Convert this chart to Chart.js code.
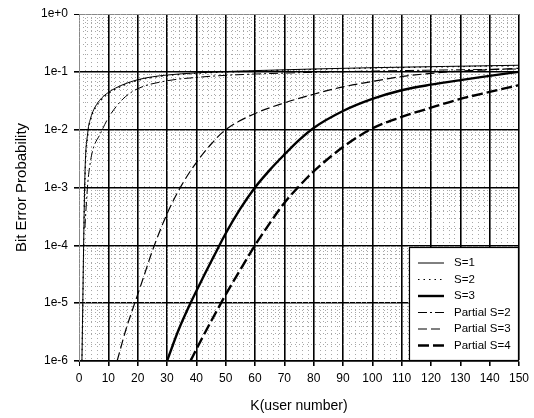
<!DOCTYPE html>
<html>
<head>
<meta charset="utf-8">
<script src="https://cdn.jsdelivr.net/npm/chart.js@4.4.0/dist/chart.umd.min.js"></script>
<style>
  html, body { margin: 0; padding: 0; background: #fff; }
  #wrap { width: 534px; height: 418px; }
</style>
</head>
<body>
<div id="wrap"><canvas id="berChart" width="534" height="418"></canvas></div>
<script>
// K values (user number) and bit error probabilities
const kS1 = [1, 2, 3, 4, 5, 7, 10, 15, 20, 25, 30, 40, 60, 80, 100, 125, 150];
const pS1 = [1e-6, 1.5e-3, 9e-3, 1.6e-2, 2.2e-2, 3.2e-2, 4.4e-2, 6e-2, 7.3e-2, 8.2e-2, 8.8e-2, 9.6e-2, 0.105, 0.112, 0.118, 0.124, 0.13];

const kS2 = [1, 2, 3, 4, 5, 7, 10, 15, 20, 25, 30, 40, 60, 80, 100, 125, 150];
const pS2 = [1e-6, 1.2e-3, 8e-3, 1.5e-2, 2.1e-2, 3e-2, 4.2e-2, 5.8e-2, 7.1e-2, 8e-2, 8.6e-2, 9.4e-2, 0.103, 0.11, 0.116, 0.122, 0.128];

const kS3 = [30, 34, 38, 42, 46, 50, 55, 60, 65, 70, 75, 80, 90, 100, 110, 120, 130, 140, 150];
const pS3 = [1e-6, 3.5e-6, 1e-5, 2.6e-5, 6.5e-5, 1.6e-4, 4.3e-4, 1e-3, 2e-3, 3.7e-3, 6.6e-3, 1.07e-2, 2.1e-2, 3.4e-2, 4.8e-2, 6e-2, 7.2e-2, 8.5e-2, 0.1];

const kP2 = [2, 3, 4, 5, 7, 10, 15, 20, 30, 40, 50, 70, 100, 150];
const pP2 = [2e-4, 1.2e-3, 3e-3, 5e-3, 8e-3, 1.6e-2, 3.4e-2, 5.1e-2, 7e-2, 8e-2, 8.7e-2, 9.5e-2, 0.103, 0.112];

const kP3 = [13, 16, 19, 22, 25, 30, 35, 40, 45, 50, 60, 70, 80, 90, 100, 110, 120, 130, 140, 150];
const pP3 = [1e-6, 3.5e-6, 1e-5, 2.8e-5, 8e-5, 3.5e-4, 1.1e-3, 2.7e-3, 5.6e-3, 1e-2, 1.9e-2, 2.9e-2, 4.1e-2, 5.5e-2, 6.8e-2, 8.3e-2, 9.4e-2, 0.103, 0.109, 0.115];

const kP4 = [38, 42, 46, 50, 55, 60, 65, 70, 75, 80, 90, 100, 110, 120, 130, 140, 150];
const pP4 = [1e-6, 2.5e-6, 6e-6, 1.4e-5, 3.8e-5, 1e-4, 2.4e-4, 5.4e-4, 1.05e-3, 1.9e-3, 5e-3, 1.05e-2, 1.66e-2, 2.4e-2, 3.4e-2, 4.5e-2, 5.9e-2];

const yTicks = [1e-6, 1e-5, 1e-4, 1e-3, 1e-2, 1e-1, 1];
const xTickStep = 10;

const FONT = '"Liberation Sans", Arial, Helvetica, sans-serif';

function pts(ks, ps) {
    return ks.map((k, i) => ({ x: k, y: ps[i] }));
}

function series(label, ks, ps, width, dash) {
    return {
        label: label,
        data: pts(ks, ps),
        borderColor: '#000',
        borderWidth: width,
        borderDash: dash,
        pointRadius: 0,
        fill: false,
        cubicInterpolationMode: 'monotone'
    };
}

// dotted minor grid, drawn from the scales
const minorGrid = {
    id: 'minorGrid',
    beforeDatasetsDraw(chart) {
        const { ctx, chartArea: a, scales: { x, y } } = chart;
        ctx.save();
        ctx.strokeStyle = '#a8a8a8';
        ctx.lineWidth = 1;
        ctx.setLineDash([1, 3]);
        ctx.beginPath();
        for (let e = -6; e < 0; e++) {
            for (let m = 2; m <= 9; m++) {
                const py = Math.round(y.getPixelForValue(m * Math.pow(10, e))) + 0.5;
                ctx.moveTo(a.left, py);
                ctx.lineTo(a.right, py);
            }
        }
        for (let k = 2; k < 150; k += 2) {
            if (k % 10 === 0) continue;
            const px = Math.round(x.getPixelForValue(k)) + 0.5;
            ctx.moveTo(px, a.top);
            ctx.lineTo(px, a.bottom);
        }
        ctx.stroke();
        ctx.restore();
    }
};

// legend box in the lower right corner of the plot
const boxLegend = {
    id: 'boxLegend',
    afterDatasetsDraw(chart) {
        const { ctx, chartArea: a } = chart;
        const w = 110, h = 114;
        const left = a.right - w, top = a.bottom - h;
        ctx.save();
        ctx.fillStyle = '#fff';
        ctx.fillRect(left, top, w, h);
        ctx.strokeStyle = '#000';
        ctx.lineWidth = 1.2;
        ctx.setLineDash([]);
        ctx.strokeRect(left + 0.5, top + 0.5, w - 1, h - 1);
        ctx.font = '11.5px ' + FONT;
        ctx.textBaseline = 'middle';
        ctx.fillStyle = '#000';
        chart.data.datasets.forEach((ds, i) => {
            const yy = top + 16 + i * 16.5;
            ctx.beginPath();
            ctx.lineWidth = ds.borderWidth;
            ctx.setLineDash(ds.borderDash || []);
            ctx.moveTo(left + 9, yy);
            ctx.lineTo(left + 35, yy);
            ctx.stroke();
            ctx.setLineDash([]);
            ctx.fillText(ds.label, left + 45, yy);
        });
        ctx.restore();
    }
};

const ctx = document.getElementById('berChart').getContext('2d');
const berChart = new Chart(ctx, {
    type: 'line',
    data: {
        datasets: [
            series('S=1', kS1, pS1, 1, []),
            series('S=2', kS2, pS2, 1.2, [1.5, 4]),
            series('S=3', kS3, pS3, 2.4, []),
            series('Partial S=2', kP2, pP2, 1, [9, 3, 2, 3]),
            series('Partial S=3', kP3, pP3, 1.2, [9, 4]),
            series('Partial S=4', kP4, pP4, 2.4, [11, 4])
        ]
    },
    options: {
        responsive: false,
        animation: false,
        layout: { padding: { top: 14, right: 15, left: 0, bottom: 0 } },
        plugins: {
            legend: { display: false },
            tooltip: { enabled: false }
        },
        scales: {
            x: {
                type: 'linear',
                min: 0,
                max: 150,
                afterFit: s => { s.height = 57; },
                ticks: {
                    stepSize: xTickStep,
                    color: '#000',
                    padding: 5,
                    font: { family: FONT, size: 12 }
                },
                grid: {
                    color: c => (c.tick && c.tick.value === 0) ? '#888' : '#000',
                    lineWidth: c => (c.tick && c.tick.value === 0) ? 1 : 1.6,
                    tickColor: '#000',
                    tickLength: 5
                },
                border: { color: '#000', width: 1.6 },
                title: {
                    display: true,
                    text: 'K(user number)',
                    color: '#000',
                    font: { family: FONT, size: 14 },
                    padding: { top: 0, bottom: 3 }
                }
            },
            y: {
                type: 'logarithmic',
                min: 1e-6,
                max: 1,
                afterFit: s => { s.width = 79; },
                afterBuildTicks: s => { s.ticks = yTicks.map(v => ({ value: v })); },
                ticks: {
                    color: '#000',
                    padding: 6,
                    font: { family: FONT, size: 12 },
                    callback: v => {
                        const e = Math.round(Math.log10(v));
                        return e >= 0 ? '1e+' + e : '1e' + e;
                    }
                },
                grid: {
                    color: c => (c.tick && c.tick.value === 1) ? '#888' : '#000',
                    lineWidth: c => (c.tick && c.tick.value === 1) ? 1 : 1.6,
                    tickColor: '#000',
                    tickLength: 5
                },
                border: { color: '#888', width: 1 },
                title: {
                    display: true,
                    text: 'Bit Error Probability',
                    color: '#000',
                    font: { family: FONT, size: 15 },
                    padding: { top: 13 }
                }
            }
        }
    },
    plugins: [minorGrid, boxLegend]
});
</script>
</body>
</html>
